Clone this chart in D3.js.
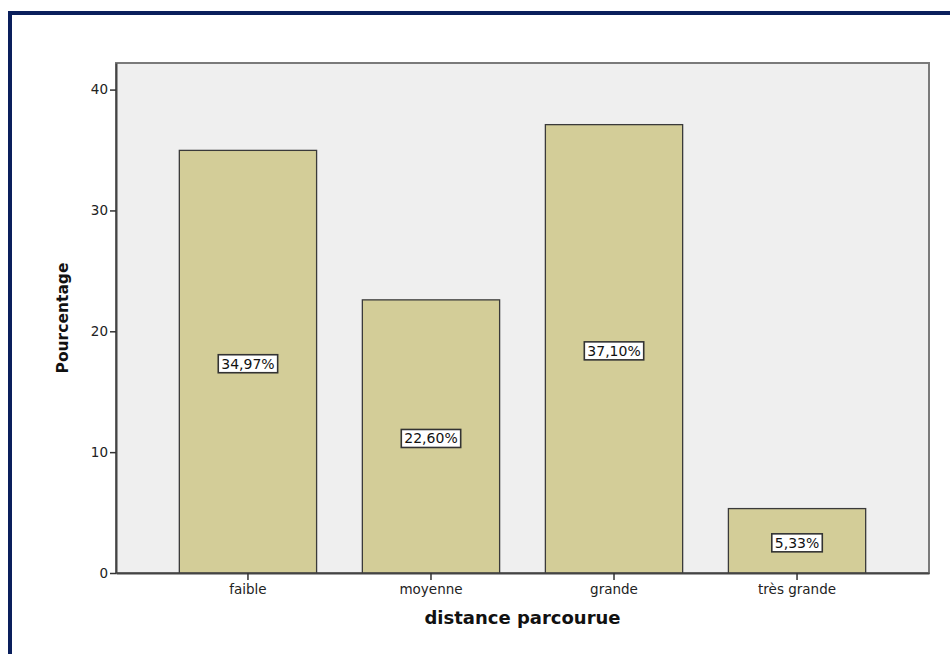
<!DOCTYPE html>
<html>
<head>
<meta charset="utf-8">
<script src="https://cdn.jsdelivr.net/npm/d3@7"></script>
<style>
  html, body { margin: 0; padding: 0; background: #fff; }
  svg { display: block; }
</style>
</head>
<body>
<svg id="chart" width="950" height="654"></svg>
<script>
// Categories and percentages
const categories = ["faible", "moyenne", "grande", "très grande"];
const percentages = [34.97, 22.60, 37.10, 5.33];
const valueLabels = ["34,97%", "22,60%", "37,10%", "5,33%"];
const yTicks = [0, 10, 20, 30, 40];

const svg = d3.select("#chart");
const font = "'DejaVu Sans', Verdana, sans-serif";

// Outer frame (left and top edges)
svg.append("path")
  .attr("d", "M10,654 L10,13 L950,13")
  .attr("fill", "none")
  .attr("stroke", "#0a1f5c")
  .attr("stroke-width", 4);

const plot = { left: 116, right: 929, top: 63, bottom: 573 };

const x = d3.scaleBand()
  .domain(categories)
  .range([plot.left, plot.right])
  .paddingInner(0.25)
  .paddingOuter(0.346);

const y = d3.scaleLinear()
  .domain([0, 42.2])
  .range([plot.bottom, plot.top]);

// Plot background
svg.append("rect")
  .attr("x", plot.left)
  .attr("y", plot.top)
  .attr("width", plot.right - plot.left)
  .attr("height", plot.bottom - plot.top)
  .attr("fill", "#efefef")
  .attr("stroke", "#7a7a7a")
  .attr("stroke-width", 2);

// Bars
svg.append("g").selectAll("rect")
  .data(categories)
  .join("rect")
  .attr("x", d => x(d))
  .attr("y", (d, i) => y(percentages[i]))
  .attr("width", x.bandwidth())
  .attr("height", (d, i) => y(0) - y(percentages[i]))
  .attr("fill", "#d3cd98")
  .attr("stroke", "#3a3a3a")
  .attr("stroke-width", 1.3);

// Axes
const yAxis = d3.axisLeft(y).tickValues(yTicks).tickSize(6).tickSizeOuter(0).tickPadding(2);
const gy = svg.append("g")
  .attr("transform", `translate(${plot.left},0)`)
  .call(yAxis);
gy.select(".domain").attr("stroke", "#444").attr("stroke-width", 2);
gy.selectAll(".tick line").attr("stroke", "#333").attr("stroke-width", 1.5);
gy.selectAll(".tick text")
  .attr("font-family", font).attr("font-size", 13.5).attr("fill", "#222");

const xAxis = d3.axisBottom(x).tickSize(7).tickSizeOuter(0).tickPadding(4);
const gx = svg.append("g")
  .attr("transform", `translate(0,${plot.bottom})`)
  .call(xAxis);
gx.select(".domain").attr("stroke", "#444").attr("stroke-width", 2);
gx.selectAll(".tick line").attr("stroke", "#333").attr("stroke-width", 1.5);
gx.selectAll(".tick text")
  .attr("font-family", font).attr("font-size", 13.5).attr("fill", "#222");

// Value labels in boxes at bar mid-height
const labels = svg.append("g").selectAll("g")
  .data(categories)
  .join("g")
  .attr("transform", (d, i) =>
    `translate(${x(d) + x.bandwidth() / 2},${(y(0) + y(percentages[i])) / 2 + 2})`);

labels.append("text")
  .attr("text-anchor", "middle")
  .attr("dy", "0.36em")
  .attr("font-family", font)
  .attr("font-size", 14)
  .attr("fill", "#111")
  .text((d, i) => valueLabels[i]);

labels.each(function() {
  const g = d3.select(this);
  const bb = g.select("text").node().getBBox();
  g.insert("rect", "text")
    .attr("x", bb.x - 3)
    .attr("y", bb.y - 1)
    .attr("width", bb.width + 6)
    .attr("height", bb.height + 2)
    .attr("fill", "#fff")
    .attr("stroke", "#333")
    .attr("stroke-width", 1.6);
});

// Axis titles
svg.append("text")
  .attr("x", (plot.left + plot.right) / 2)
  .attr("y", 624)
  .attr("text-anchor", "middle")
  .attr("font-family", font)
  .attr("font-size", 18)
  .attr("font-weight", "bold")
  .attr("fill", "#111")
  .text("distance parcourue");

svg.append("text")
  .attr("transform", `translate(68,318) rotate(-90)`)
  .attr("text-anchor", "middle")
  .attr("font-family", font)
  .attr("font-size", 15.5)
  .attr("font-weight", "bold")
  .attr("fill", "#111")
  .text("Pourcentage");
</script>
</body>
</html>
